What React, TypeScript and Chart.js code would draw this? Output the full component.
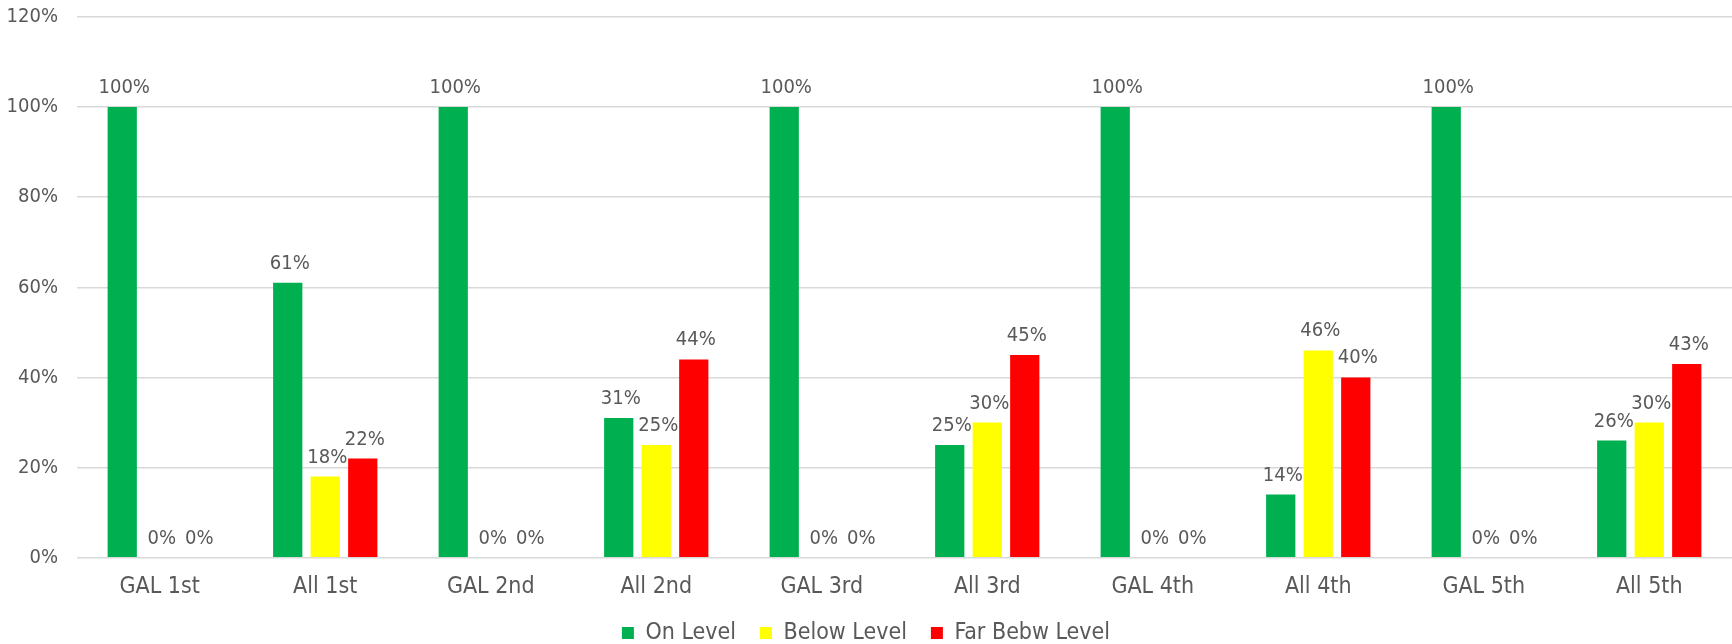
import React, { useEffect, useRef } from "react";
import { Chart, registerables } from "chart.js";

Chart.register(...registerables);

const categories = ["GAL 1st", "All 1st", "GAL 2nd", "All 2nd", "GAL 3rd", "All 3rd", "GAL 4th", "All 4th", "GAL 5th", "All 5th"];
const onLevel = [100, 61, 100, 31, 100, 25, 100, 14, 100, 26];
const belowLevel = [0, 18, 0, 25, 0, 30, 0, 46, 0, 30];
const farBelowLevel = [0, 22, 0, 44, 0, 45, 0, 40, 0, 43];
const seriesNames = ["On Level", "Below Level", "Far Bebw Level"];
const yTicks = [0, 20, 40, 60, 80, 100, 120];

const FONT = "'Liberation Sans Narrow', 'DejaVu Sans Condensed', 'Liberation Sans', sans-serif";
const TEXT = "#595959";

const dataLabels = {
  id: "dataLabels",
  afterDatasetsDraw(chart: any) {
    const ctx = chart.ctx;
    ctx.save();
    ctx.font = `20px ${FONT}`;
    ctx.fillStyle = TEXT;
    ctx.textAlign = "center";
    ctx.textBaseline = "alphabetic";
    chart.data.datasets.forEach((ds: any, i: number) => {
      const meta = chart.getDatasetMeta(i);
      meta.data.forEach((el: any, j: number) => {
        ctx.fillText(`${ds.data[j]}%`, el.x + 2, el.y - 14);
      });
    });
    ctx.restore();
  },
};

const legendFit = {
  id: "legendFit",
  beforeLayout(chart: any) {
    const lg = chart.legend;
    if (lg && !lg._patched) {
      const orig = lg.fit.bind(lg);
      lg.fit = function () {
        orig();
        this.height = 46.5;
      };
      lg._patched = true;
    }
  },
};

export default function App() {
  const ref = useRef<HTMLCanvasElement>(null);
  useEffect(() => {
    document.body.style.margin = "0";
    const chart = new Chart(ref.current!, {
      type: "bar",
      data: {
        labels: categories,
        datasets: [
          { label: seriesNames[0], data: onLevel, backgroundColor: "#00b050" },
          { label: seriesNames[1], data: belowLevel, backgroundColor: "#ffff00" },
          { label: seriesNames[2], data: farBelowLevel, backgroundColor: "#ff0000" },
        ],
      },
      options: {
        animation: false,
        responsive: false,
        layout: { padding: { top: 17, left: 0, right: 0, bottom: 0 } },
        datasets: { bar: { barPercentage: 0.78, categoryPercentage: 0.68 } },
        scales: {
          x: {
            grid: { display: false, drawTicks: false },
            border: { display: false },
            ticks: { color: TEXT, font: { family: FONT, size: 23 }, padding: 16 },
            afterFit(scale: any) {
              scale.height = 39.8;
            },
          },
          y: {
            min: 0,
            max: 120,
            afterBuildTicks(scale: any) {
              scale.ticks = yTicks.map((v) => ({ value: v }));
            },
            grid: { color: "#d9d9d9", lineWidth: 1.5, drawTicks: false },
            border: { display: false },
            ticks: {
              color: TEXT,
              font: { family: FONT, size: 20 },
              padding: 19,
              callback: (v: any) => `${v}%`,
            },
            afterFit(scale: any) {
              scale.width = 77;
              scale.paddingTop = 0;
              scale.paddingBottom = 0;
            },
          },
        },
        plugins: {
          legend: {
            position: "bottom",
            labels: {
              color: TEXT,
              font: { family: FONT, size: 23 },
              boxWidth: 12,
              boxHeight: 12,
              padding: 24,
            },
          },
          tooltip: { enabled: false },
        },
      },
      plugins: [dataLabels, legendFit],
    });
    return () => chart.destroy();
  }, []);
  return <canvas ref={ref} width={1732} height={644} style={{ display: "block" }} />;
}
